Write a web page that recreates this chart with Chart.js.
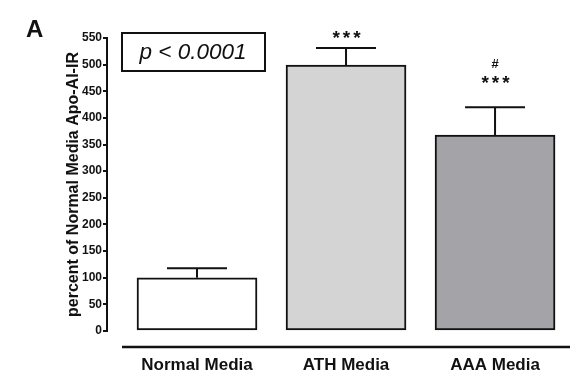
<!DOCTYPE html>
<html>
<head>
<meta charset="utf-8">
<script src="https://cdn.jsdelivr.net/npm/chart.js@4"></script>
<style>
html,body{margin:0;padding:0;background:#fff;}
#wrap{width:572px;height:380px;position:relative;}
</style>
</head>
<body>
<div id="wrap"><canvas id="c" width="572" height="380"></canvas></div>
<script>
const categories = ['Normal Media', 'ATH Media', 'AAA Media'];
const means = [100, 499, 368];
const sems = [18, 32, 52];
const topMarks = ['', '***', '***'];
const hashMarks = ['', '', '#'];
const yTicks = [0, 50, 100, 150, 200, 250, 300, 350, 400, 450, 500, 550];
const barColors = ['#ffffff', '#d4d4d4', '#a4a4a8'];
const pValueText = 'p < 0.0001';
const panelLetter = 'A';
const yTitle = 'percent of Normal Media Apo-AI-IR';

const FONT = '"Liberation Sans", Arial, sans-serif';

const extras = {
  id: 'extras',
  afterDatasetsDraw(chart) {
    const ctx = chart.ctx;
    const xs = chart.scales.x, ys = chart.scales.y;
    ctx.save();
    ctx.strokeStyle = '#111';
    ctx.lineWidth = 2;
    means.forEach((m, i) => {
      const cx = xs.getPixelForValue(i);
      const yTop = ys.getPixelForValue(m + sems[i]);
      const yBar = ys.getPixelForValue(m);
      ctx.beginPath();
      ctx.moveTo(cx, yBar);
      ctx.lineTo(cx, yTop);
      ctx.moveTo(cx - 30, yTop);
      ctx.lineTo(cx + 30, yTop);
      ctx.stroke();
      ctx.fillStyle = '#111';
      ctx.textAlign = 'center';
      ctx.textBaseline = 'alphabetic';
      if (topMarks[i]) {
        ctx.font = 'bold 19px ' + FONT;
        ctx.letterSpacing = '3px';
        const off = hashMarks[i] ? 19 : 5;
        ctx.fillText(topMarks[i], cx + 2, yTop - off + 1);
        ctx.letterSpacing = '0px';
      }
      if (hashMarks[i]) {
        ctx.font = 'bold 13px ' + FONT;
        ctx.fillText(hashMarks[i], cx, yTop - 39);
      }
    });
    const ca = chart.chartArea;
    ctx.lineWidth = 2.5;
    ctx.beginPath();
    ctx.moveTo(ca.left + 15, ca.bottom + 16);
    ctx.lineTo(ca.right, ca.bottom + 16);
    ctx.stroke();
    ctx.lineWidth = 2;
    ctx.strokeRect(122, 33, 143, 38);
    ctx.font = 'italic 22.5px ' + FONT;
    ctx.textAlign = 'center';
    ctx.textBaseline = 'middle';
    ctx.fillText(pValueText, 193, 53);
    ctx.font = 'bold 24px ' + FONT;
    ctx.textAlign = 'left';
    ctx.textBaseline = 'alphabetic';
    ctx.fillText(panelLetter, 26, 37);
    ctx.restore();
  }
};

new Chart(document.getElementById('c'), {
  type: 'bar',
  data: {
    datasets: [{
      data: means.map((v, i) => ({ x: i, y: v })),
      backgroundColor: barColors,
      borderColor: '#111',
      borderWidth: 2,
      borderSkipped: false,
      barThickness: 120
    }]
  },
  options: {
    responsive: false,
    animation: false,
    devicePixelRatio: 1,
    layout: { padding: { left: 60, right: 2, top: 38, bottom: 0 } },
    plugins: { legend: { display: false }, tooltip: { enabled: false } },
    scales: {
      x: {
        type: 'linear',
        offset: false,
        min: -0.604,
        max: 2.503,
        grid: { display: false, offset: false },
        border: { display: false },
        afterBuildTicks: (s) => { s.ticks = categories.map((c, i) => ({ value: i })); },
        afterFit: (s) => { s.height = 49; },
        ticks: {
          callback: (v, i) => categories[i],
          color: '#111',
          padding: 16,
          maxRotation: 0,
          autoSkip: false,
          font: { family: FONT, size: 17, weight: 'bold' }
        }
      },
      y: {
        min: 0,
        max: 550,
        afterBuildTicks: (s) => { s.ticks = yTicks.map(v => ({ value: v })); },
        afterFit: (s) => { s.width = 47; },
        grid: { drawOnChartArea: false, tickLength: 4, color: '#111', lineWidth: 2 },
        border: { display: true, color: '#111', width: 2 },
        ticks: {
          color: '#111',
          padding: 1,
          font: { family: FONT, size: 12, weight: 'bold' }
        },
        title: {
          display: true,
          text: yTitle,
          color: '#111',
          padding: { top: 4, bottom: 0 },
          font: { family: FONT, size: 16, weight: 'bold' }
        }
      }
    }
  },
  plugins: [extras]
});
</script>
</body>
</html>
